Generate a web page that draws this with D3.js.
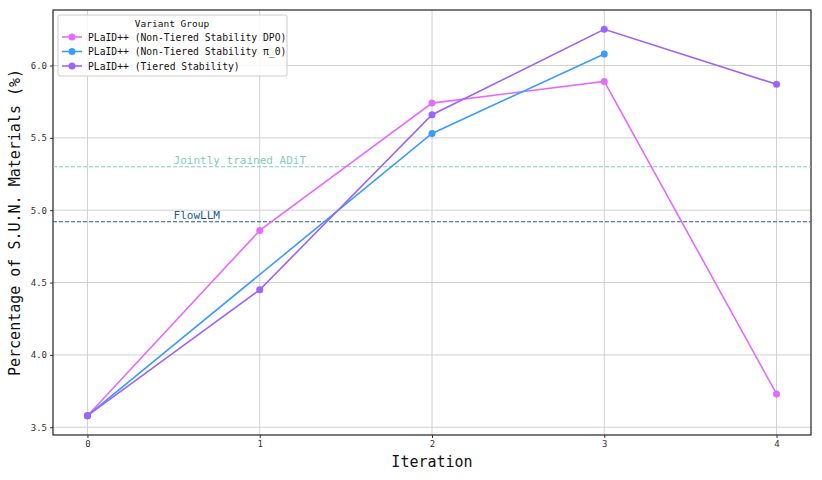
<!DOCTYPE html>
<html>
<head>
<meta charset="utf-8">
<script src="https://cdn.jsdelivr.net/npm/d3@7"></script>
<style>
  body { margin: 0; background: #fff; }
  text { font-family: "DejaVu Sans Mono", monospace; }
</style>
</head>
<body>
<svg id="chart" width="822" height="480"></svg>
<script>
// data
var iterations = [0, 1, 2, 3, 4]
var dpoValues = [3.58, 4.86, 5.74, 5.89, 3.73]
var pi0Values = [3.58, null, 5.53, 6.08, null]
var tieredValues = [3.58, 4.45, 5.66, 6.25, 5.87]
var seriesNames = ["PLaID++ (Non-Tiered Stability DPO)", "PLaID++ (Non-Tiered Stability π_0)", "PLaID++ (Tiered Stability)"]
var seriesColors = ["#e36bff", "#3a9cff", "#9b63ff"]
var refNames = ["Jointly trained ADiT", "FlowLLM"]
var refValues = [5.30, 4.92]
var refColors = ["#7fcdbb", "#225a96"]
var yTicks = [3.5, 4.0, 4.5, 5.0, 5.5, 6.0]

var svg = d3.select("#chart")
var m = {left: 53, right: 11, top: 10, bottom: 45}
var W = 822, H = 480

var x = d3.scaleLinear().domain([-0.2, 4.2]).range([m.left, W - m.right])
var y = d3.scaleLinear().domain([3.4465, 6.3835]).range([H - m.bottom, m.top])

// grid
var grid = svg.append("g")
grid.selectAll(".gx").data(iterations).enter().append("line")
    .attr("x1", d => x(d)).attr("x2", d => x(d))
    .attr("y1", m.top).attr("y2", H - m.bottom)
    .style("stroke", "#d0d0d0").style("stroke-width", 1)
grid.selectAll(".gy").data(yTicks).enter().append("line")
    .attr("x1", m.left).attr("x2", W - m.right)
    .attr("y1", d => y(d)).attr("y2", d => y(d))
    .style("stroke", "#d0d0d0").style("stroke-width", 1)

// axes
var xAxis = svg.append("g").attr("transform", "translate(0," + (H - m.bottom) + ")")
    .call(d3.axisBottom(x).tickValues(iterations).tickFormat(d3.format("d")).tickSize(3).tickSizeOuter(0))
var yAxis = svg.append("g").attr("transform", "translate(" + m.left + ",0)")
    .call(d3.axisLeft(y).tickValues(yTicks).tickFormat(d3.format(".1f")).tickSize(3).tickSizeOuter(0))
svg.selectAll(".domain").remove()
svg.selectAll(".tick text").style("font-size", "9px").style("fill", "#333")
svg.selectAll(".tick line").style("stroke", "#333")

// frame
svg.append("rect").attr("x", m.left).attr("y", m.top)
    .attr("width", W - m.left - m.right).attr("height", H - m.top - m.bottom)
    .style("fill", "none").style("stroke", "#222").style("stroke-width", 1.2)

// reference lines
refValues.forEach(function(v, i){
    svg.append("line").attr("x1", m.left).attr("x2", W - m.right)
        .attr("y1", y(v)).attr("y2", y(v))
        .style("stroke", refColors[i]).style("stroke-width", 1.1).style("stroke-dasharray", "4,2")
    svg.append("text").attr("x", x(0.5)).attr("y", y(v) - 3)
        .text(refNames[i]).style("font-size", "11px").style("fill", refColors[i])
})

// series
var allSeries = [dpoValues, pi0Values, tieredValues]
var line = d3.line().defined(d => d.v != null).x(d => x(d.i)).y(d => y(d.v))
allSeries.forEach(function(vals, s){
    var pts = iterations.map((it, k) => ({i: it, v: vals[k]})).filter(d => d.v != null)
    svg.append("path").datum(pts).attr("d", line)
        .style("fill", "none").style("stroke", seriesColors[s]).style("stroke-width", 1.6)
    svg.selectAll(".pt" + s).data(pts).enter().append("circle")
        .attr("cx", d => x(d.i)).attr("cy", d => y(d.v)).attr("r", 3.5)
        .style("fill", seriesColors[s])
})

// axis labels
svg.append("text").attr("x", x(2)).attr("y", 467).attr("text-anchor", "middle")
    .text("Iteration").style("font-size", "15px").style("fill", "#111")
svg.append("text").attr("transform", "translate(20," + (m.top + (H - m.top - m.bottom) / 2) + ") rotate(-90)")
    .attr("text-anchor", "middle")
    .text("Percentage of S.U.N. Materials (%)").style("font-size", "15px").style("fill", "#111")

// legend
var lg = svg.append("g").attr("transform", "translate(58,15)")
lg.append("rect").attr("width", 229).attr("height", 61).attr("rx", 2)
    .style("fill", "#fff").style("fill-opacity", 0.85).style("stroke", "#ccc")
lg.append("text").attr("x", 114).attr("y", 12).attr("text-anchor", "middle")
    .text("Variant Group").style("font-size", "9.5px").style("fill", "#111")
seriesNames.forEach(function(name, s){
    var ry = 22 + s * 14.5
    lg.append("line").attr("x1", 4).attr("x2", 24).attr("y1", ry).attr("y2", ry)
        .style("stroke", seriesColors[s]).style("stroke-width", 1.6)
    lg.append("circle").attr("cx", 14).attr("cy", ry).attr("r", 3.5).style("fill", seriesColors[s])
    lg.append("text").attr("x", 30).attr("y", ry + 3.5).text(name)
        .style("font-size", "9.7px").style("fill", "#111")
})
</script>
</body>
</html>
